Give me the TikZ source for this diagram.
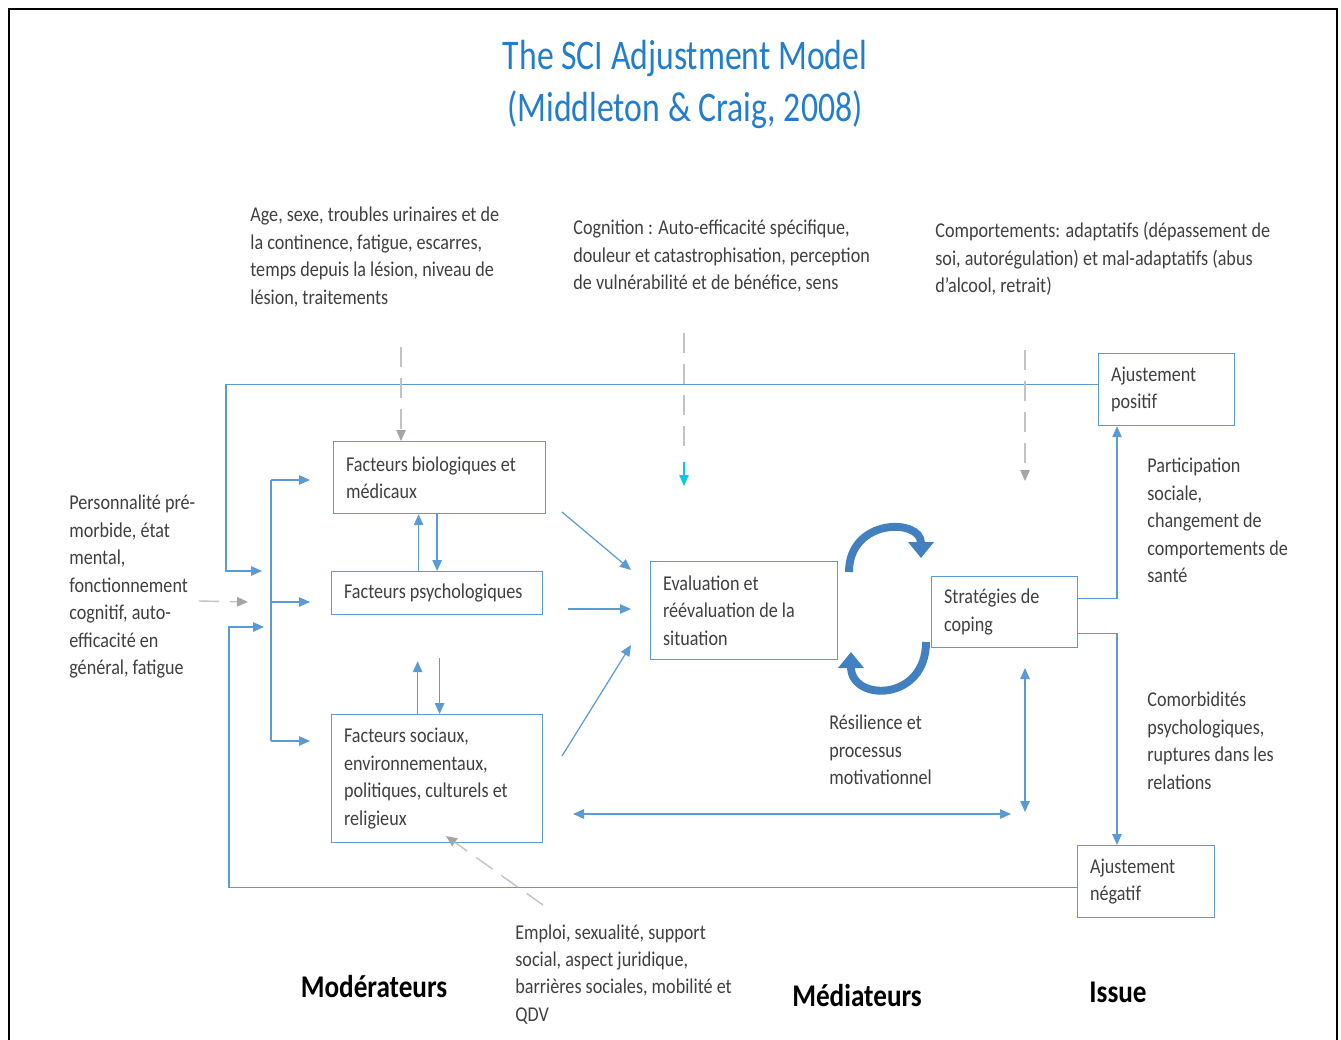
\documentclass[tikz,border=0pt]{standalone}
\usepackage{fontspec}
\setmainfont[FakeStretch=0.86]{Carlito}
\newfontfamily\titlefont[FakeStretch=0.8]{Carlito}
\usetikzlibrary{arrows.meta,positioning}
\definecolor{boxblue}{RGB}{91,155,213}
\definecolor{ringblue}{RGB}{66,128,192}
\definecolor{titleblue}{RGB}{35,125,205}
\definecolor{txtgray}{RGB}{64,64,64}
\definecolor{dashgray}{RGB}{195,195,195}
\definecolor{tipgray}{RGB}{165,165,165}
\definecolor{tipcyan}{RGB}{0,205,225}

\tikzset{
  txt/.style={font=\fontsize{12}{15.6}\selectfont, text=txtgray, align=flush left, inner sep=0pt, anchor=north west},
  fbox/.style={draw=boxblue, line width=0.7pt, font=\fontsize{12}{15.6}\selectfont, text=txtgray,
    align=flush left, inner xsep=0.25cm, inner ysep=0pt, anchor=north west},
  link/.style={boxblue, line width=0.7pt},
  arr/.style={link, -{Triangle[length=2.2mm,width=1.9mm]}},
  darr/.style={link, {Triangle[length=2.2mm,width=1.9mm]}-{Triangle[length=2.2mm,width=1.9mm]}},
  hint/.style={dashgray, line width=0.8pt, dash pattern=on 0.4cm off 0.22cm,
    -{Triangle[length=2.2mm,width=1.9mm,color=tipgray]}},
  ring/.style={ringblue, line width=4.5pt, -{Triangle[length=3.2mm,width=5mm]}},
  head/.style={font=\fontsize{18}{22}\selectfont\bfseries, text=black},
}

\begin{document}
\begin{tikzpicture}[x=0.02cm, y=-0.02cm]
  \useasboundingbox (0,0) rectangle (1341,1040);
  % frame
  \draw[black, line width=1.1pt] (9,1040) -- (9,9) -- (1337,9) -- (1337,1040);

  % title
  \node[titleblue, align=center, font=\titlefont\fontsize{24}{29.6}\selectfont] (title) at (685,84)
    {The SCI Adjustment Model\\(Middleton \& Craig, 2008)};

  % texts
  \node[txt] (tBio) at (250,207) {Age, sexe, troubles urinaires et de\\la continence, fatigue, escarres,\\temps depuis la lésion, niveau de\\lésion, traitements};
  \node[txt] (tCog) at (573,220) {Cognition : Auto-efficacité spécifique,\\douleur et catastrophisation, perception\\de vulnérabilité et de bénéfice, sens};
  \node[txt] (tComp) at (935,222) {Comportements: adaptatifs (dépassement de\\soi, autorégulation) et mal-adaptatifs (abus\\d’alcool, retrait)};
  \node[txt] (tPers) at (69,495) {Personnalité pré-\\morbide, état\\mental,\\fonctionnement\\cognitif, auto-\\efficacité en\\général, fatigue};
  \node[txt] (tPart) at (1147,458) {Participation\\sociale,\\changement de\\comportements de\\santé};
  \node[txt] (tComo) at (1147,692) {Comorbidités\\psychologiques,\\ruptures dans les\\relations};
  \node[txt] (tRes) at (829,715) {Résilience et\\processus\\motivationnel};
  \node[txt] (tEmp) at (515,924) {Emploi, sexualité, support\\social, aspect juridique,\\barrières sociales, mobilité et\\QDV};

  % boxes
  \node[fbox, text width=3.74cm, minimum height=1.44cm] (bio) at (333,441) {Facteurs biologiques et\\médicaux};
  \node[fbox, text width=3.72cm, minimum height=0.86cm] (psy) at (331,571) {Facteurs psychologiques};
  \node[fbox, text width=3.72cm, minimum height=2.56cm] (soc) at (331,714) {Facteurs sociaux,\\environnementaux,\\politiques, culturels et\\religieux};
  \node[fbox, text width=3.24cm, minimum height=1.96cm] (eval) at (650,561) {Evaluation et\\réévaluation de la\\situation};
  \node[fbox, text width=2.42cm, minimum height=1.42cm] (strat) at (931,576) {Stratégies de\\coping};
  \node[fbox, text width=2.22cm, minimum height=1.44cm] (pos) at (1098,353) {Ajustement\\positif};
  \node[fbox, text width=2.24cm, minimum height=1.44cm] (neg) at (1077,845) {Ajustement\\négatif};

  % headings
  \node[head] (hMod) at (374,987) {Modérateurs};
  \node[head] (hMed) at (857,996) {Médiateurs};
  \node[head] (hIss) at (1118,992) {Issue};

  % free ends
  \coordinate (inT) at (262,571);
  \coordinate (inB) at (264,627);
  \coordinate (d1) at (271,480);
  \coordinate (d2) at (271,602);
  \coordinate (d3) at (271,741);
  \coordinate (e1) at (562,512);  \coordinate (e1t) at (631,570);
  \coordinate (e2) at (568,609);  \coordinate (e2t) at (631,609);
  \coordinate (e3) at (562,756);  \coordinate (e3t) at (631,645);
  \coordinate (v1) at (1025,668); \coordinate (v2) at (1025,812);
  \coordinate (h1) at (573,814);  \coordinate (h2) at (1011,814);
  \coordinate (g1) at (401,347);
  \coordinate (g2) at (684,333);  \coordinate (g2b) at (684,452);
  \coordinate (g2c) at (684,462); \coordinate (g2t) at (684,486);
  \coordinate (g3) at (1025,350); \coordinate (g3t) at (1025,481);
  \coordinate (g4) at (543,905);  \coordinate (g4t) at (446,836);
  \coordinate (g5) at (199,601);  \coordinate (g5t) at (248,602);

  % feedback loops
  \draw[arr] ([yshift=0.1cm]pos.west) -| ([xshift=-0.72cm]inT) -- (inT);
  \draw[arr] ([yshift=-0.12cm]neg.west) -| ([xshift=-0.7cm]inB) -- (inB);

  % moderators
  \draw[link] (d1) -- (d3);
  \draw[arr, shorten >=0.46cm] (d1) -- (d1 -| bio.west);
  \draw[arr, shorten >=0.42cm] (d2) -- (d2 -| psy.west);
  \draw[arr, shorten >=0.42cm] (d3) -- (d3 -| soc.west);
  \draw[arr] (bio.south -| psy.north) -- (psy.north);
  \draw[arr] ([xshift=-0.37cm]psy.north) -- ([xshift=-0.37cm]psy.north |- bio.south);
  \draw[arr, shorten <=0.86cm] ([xshift=0.05cm]psy.south) -- ([xshift=0.05cm]soc.north);
  \draw[arr, shorten >=0.92cm] ([xshift=-0.39cm]soc.north) -- ([xshift=-0.39cm]soc.north |- psy.south);

  % towards appraisal
  \draw[arr] (e1) -- (e1t);
  \draw[arr] (e2) -- (e2t);
  \draw[arr] (e3) -- (e3t);

  % cycle
  \draw[ring] (849,572) .. controls (849,518) and (921,518) .. (921,558);
  \draw[ring] (926,642) .. controls (926,702) and (851,702) .. (851,652);

  % outcomes
  \draw[arr] ([yshift=0.28cm]strat.east) -| ([xshift=0.38cm]pos.south west);
  \draw[arr] ([yshift=-0.43cm]strat.east) -| ([xshift=0.8cm]neg.north west);
  \draw[darr] (v1) -- (v2);
  \draw[darr] (h1) -- (h2);

  % influences
  \draw[hint] (g1) -- (bio.north -| g1);
  \draw[dashgray, line width=0.8pt, dash pattern=on 0.4cm off 0.22cm] (g2) -- (g2b);
  \draw[tipcyan, line width=0.8pt, -{Triangle[length=2.2mm,width=1.9mm]}] (g2c) -- (g2t);
  \draw[hint] (g3) -- (g3t);
  \draw[hint] (g4) -- (g4t);
  \draw[hint] (g5) -- (g5t);
\end{tikzpicture}
\end{document}
